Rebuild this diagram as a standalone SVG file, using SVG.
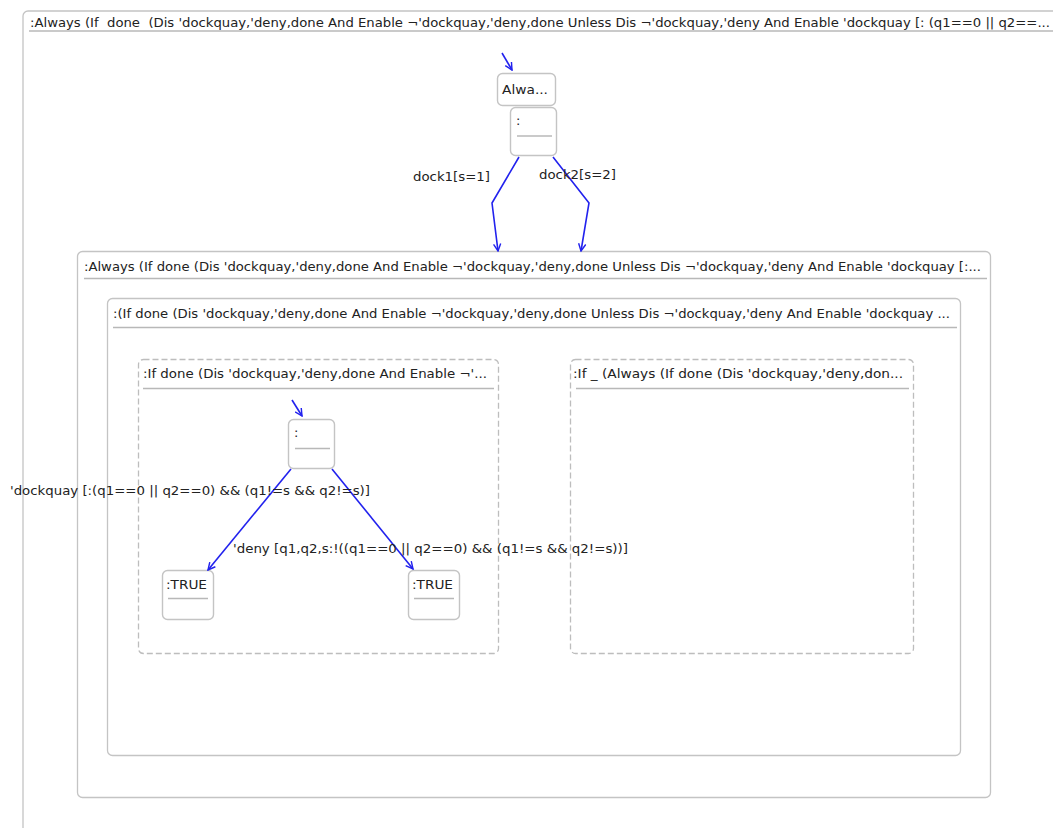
<svg xmlns="http://www.w3.org/2000/svg" width="1053" height="828" viewBox="0 0 1053 828">
  <style>
    text { font-family: "DejaVu Sans", Verdana, sans-serif; font-size: 13px; fill: #222; white-space: pre; }
    .frame { fill: #fff; stroke: #c4c4c4; stroke-width: 1.3; }
    .dashed { fill: #fff; stroke: #bdbdbd; stroke-width: 1.3; stroke-dasharray: 6 3; }
    .sep { stroke: #b8b8b8; stroke-width: 1.3; }
    .state { fill: #fff; stroke: #c4c4c4; stroke-width: 1.4; }
    .edge { fill: none; stroke: #2222ee; stroke-width: 1.6; marker-end: url(#arrow); }
  </style>
  <defs>
    <marker id="arrow" viewBox="0 0 10 10" refX="9" refY="5" markerWidth="9" markerHeight="9" orient="auto" markerUnits="userSpaceOnUse">
      <path d="M1,1 L9,5 L1,9" fill="none" stroke="#2222ee" stroke-width="1.6"/>
    </marker>
  </defs>
  <rect width="1053" height="828" fill="#fff"/>

  <!-- outermost composite state -->
  <g id="always-root">
    <rect class="frame" x="23" y="11" width="1100" height="900" rx="5"/>
    <line class="sep" x1="29" y1="31" x2="1053" y2="31"/>
    <text x="30" y="27" textLength="1020" lengthAdjust="spacingAndGlyphs">:Always (If  done  (Dis 'dockquay,'deny,done And Enable ¬'dockquay,'deny,done Unless Dis ¬'dockquay,'deny And Enable 'dockquay [: (q1==0 || q2==...</text>
  </g>

  <g id="always-inner">
    <rect class="frame" x="77.5" y="251.5" width="913" height="546" rx="5"/>
    <line class="sep" x1="84" y1="278.5" x2="987" y2="278.5"/>
    <text x="84" y="271" textLength="897" lengthAdjust="spacingAndGlyphs">:Always (If done (Dis 'dockquay,'deny,done And Enable ¬'dockquay,'deny,done Unless Dis ¬'dockquay,'deny And Enable 'dockquay [:...</text>
  </g>

  <g id="if-seq">
    <rect class="frame" x="107.5" y="298.5" width="853" height="457" rx="5"/>
    <line class="sep" x1="113" y1="327.5" x2="957" y2="327.5"/>
    <text x="113" y="318" textLength="837" lengthAdjust="spacingAndGlyphs">:(If done (Dis 'dockquay,'deny,done And Enable ¬'dockquay,'deny,done Unless Dis ¬'dockquay,'deny And Enable 'dockquay ...</text>
  </g>

  <g id="if-done">
    <rect class="dashed" x="138.5" y="359.5" width="360" height="294" rx="5"/>
    <line class="sep" x1="143" y1="388.5" x2="494" y2="388.5"/>
    <text x="143" y="378" textLength="344" lengthAdjust="spacingAndGlyphs">:If done (Dis 'dockquay,'deny,done And Enable ¬'...</text>
  </g>

  <g id="if-else">
    <rect class="dashed" x="570.5" y="359.5" width="343" height="294" rx="5"/>
    <line class="sep" x1="576" y1="388.5" x2="909" y2="388.5"/>
    <text x="573" y="378" textLength="330" lengthAdjust="spacingAndGlyphs">:If _ (Always (If done (Dis 'dockquay,'deny,don...</text>
  </g>

  <!-- simple states -->
  <g id="alwa">
    <rect class="state" x="497.5" y="73.5" width="58" height="32" rx="5"/>
    <text x="502" y="94" textLength="46" lengthAdjust="spacingAndGlyphs">Alwa...</text>
  </g>
  <g id="choice-top">
    <rect class="state" x="510.5" y="107.5" width="46" height="48" rx="5"/>
    <line class="sep" x1="517" y1="136" x2="552" y2="136"/>
    <text x="516" y="125">:</text>
  </g>
  <g id="choice-inner">
    <rect class="state" x="288.5" y="419.5" width="46" height="49" rx="5"/>
    <line class="sep" x1="295" y1="448.5" x2="330" y2="448.5"/>
    <text x="294" y="437">:</text>
  </g>
  <g id="true-left">
    <rect class="state" x="162.5" y="570.5" width="51" height="49" rx="5"/>
    <line class="sep" x1="168" y1="598.5" x2="208" y2="598.5"/>
    <text x="166" y="589" textLength="41" lengthAdjust="spacingAndGlyphs">:TRUE</text>
  </g>
  <g id="true-right">
    <rect class="state" x="408.5" y="570.5" width="51" height="49" rx="5"/>
    <line class="sep" x1="414" y1="598.5" x2="454" y2="598.5"/>
    <text x="412" y="589" textLength="41" lengthAdjust="spacingAndGlyphs">:TRUE</text>
  </g>

  <!-- transitions -->
  <g id="connectors">
    <path class="edge" d="M502,53 L512,70"/>
    <path class="edge" d="M519,157 L492,203 L498,251"/>
    <path class="edge" d="M553,157 L589,203 L581,251"/>
    <path class="edge" d="M292,400 L302,416"/>
    <path class="edge" d="M291,469 L208,570"/>
    <path class="edge" d="M332,469 L413,569"/>
    <text x="413" y="181" textLength="77" lengthAdjust="spacingAndGlyphs">dock1[s=1]</text>
    <text x="539" y="179" textLength="77" lengthAdjust="spacingAndGlyphs">dock2[s=2]</text>
    <text x="10" y="495" textLength="360" lengthAdjust="spacingAndGlyphs">'dockquay [:(q1==0 || q2==0) &amp;&amp; (q1!=s &amp;&amp; q2!=s)]</text>
    <text x="233" y="553" textLength="395" lengthAdjust="spacingAndGlyphs">'deny [q1,q2,s:!((q1==0 || q2==0) &amp;&amp; (q1!=s &amp;&amp; q2!=s))]</text>
  </g>
</svg>
